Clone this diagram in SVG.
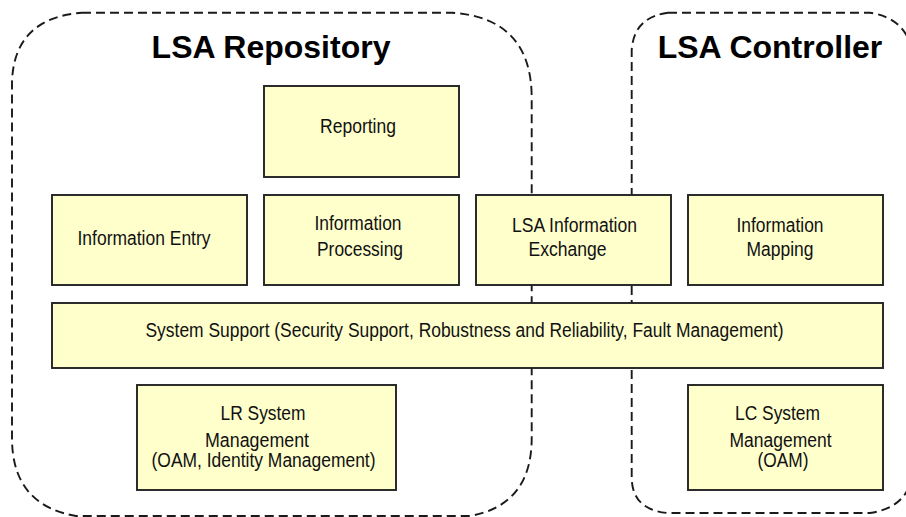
<svg xmlns="http://www.w3.org/2000/svg" width="906" height="517" viewBox="0 0 906 517">
<style>
.container{fill:none;stroke:#1a1a1a;stroke-width:1.9;stroke-dasharray:9 5}
.box{fill:#FFFFCC;stroke:#222;stroke-width:1.9}
.lbl{font-family:"Liberation Sans",Arial,sans-serif;font-size:19.5px;fill:#111;text-anchor:middle}
.title{font-family:"Liberation Sans",Arial,sans-serif;font-size:32px;font-weight:bold;fill:#000;text-anchor:middle}
</style>
<rect width="906" height="517" fill="#fff"/>
<g id="lsa-repository">
<path class="container" d="M82,12.7 H452 Q531.7,18 531.7,98 V438 Q531.7,505 470,516 H76 Q12,505 12,438 V82 Q14,18 82,12.7 Z"/>
<text class="title" x="271" y="58">LSA Repository</text>
</g>
<g id="lsa-controller">
<path class="container" d="M668,12.7 H870 Q905,18 912,50 V478 Q905,508 870,513 H668 Q631.7,510 631.7,477 V50 Q634,17 668,12.7 Z"/>
<text class="title" x="770" y="58">LSA Controller</text>
</g>
<g id="connectors"/>
<g id="reporting">
<rect class="box" x="264" y="86" width="195" height="91"/>
<text class="lbl" x="358" y="133" textLength="76" lengthAdjust="spacingAndGlyphs">Reporting</text>
</g>
<g id="information-entry">
<rect class="box" x="52" y="195" width="195" height="90"/>
<text class="lbl" x="144" y="245" textLength="133" lengthAdjust="spacingAndGlyphs">Information Entry</text>
</g>
<g id="information-processing">
<rect class="box" x="264" y="195" width="195" height="90"/>
<text class="lbl" x="358" y="229.5" textLength="87" lengthAdjust="spacingAndGlyphs">Information</text>
<text class="lbl" x="360" y="256" textLength="86" lengthAdjust="spacingAndGlyphs">Processing</text>
</g>
<g id="lsa-information-exchange">
<rect class="box" x="476" y="195" width="195" height="90"/>
<text class="lbl" x="574.5" y="231.5" textLength="125" lengthAdjust="spacingAndGlyphs">LSA Information</text>
<text class="lbl" x="567.5" y="256" textLength="78" lengthAdjust="spacingAndGlyphs">Exchange</text>
</g>
<g id="information-mapping">
<rect class="box" x="688" y="195" width="195" height="90"/>
<text class="lbl" x="780" y="231.5" textLength="87" lengthAdjust="spacingAndGlyphs">Information</text>
<text class="lbl" x="780" y="256" textLength="67" lengthAdjust="spacingAndGlyphs">Mapping</text>
</g>
<g id="system-support">
<rect class="box" x="52" y="303" width="831" height="65"/>
<text class="lbl" x="464.5" y="337" textLength="638" lengthAdjust="spacingAndGlyphs">System Support (Security Support, Robustness and Reliability, Fault Management)</text>
</g>
<g id="lr-system-management">
<rect class="box" x="137" y="385" width="259" height="105"/>
<text class="lbl" x="263" y="420" textLength="85" lengthAdjust="spacingAndGlyphs">LR System</text>
<text class="lbl" x="257" y="446.5" textLength="104" lengthAdjust="spacingAndGlyphs">Management</text>
<text class="lbl" x="263.5" y="467" textLength="224" lengthAdjust="spacingAndGlyphs">(OAM, Identity Management)</text>
</g>
<g id="lc-system-management">
<rect class="box" x="688" y="385" width="195" height="105"/>
<text class="lbl" x="777.5" y="420" textLength="85" lengthAdjust="spacingAndGlyphs">LC System</text>
<text class="lbl" x="780.5" y="446.5" textLength="102" lengthAdjust="spacingAndGlyphs">Management</text>
<text class="lbl" x="783" y="467" textLength="51" lengthAdjust="spacingAndGlyphs">(OAM)</text>
</g>
</svg>
